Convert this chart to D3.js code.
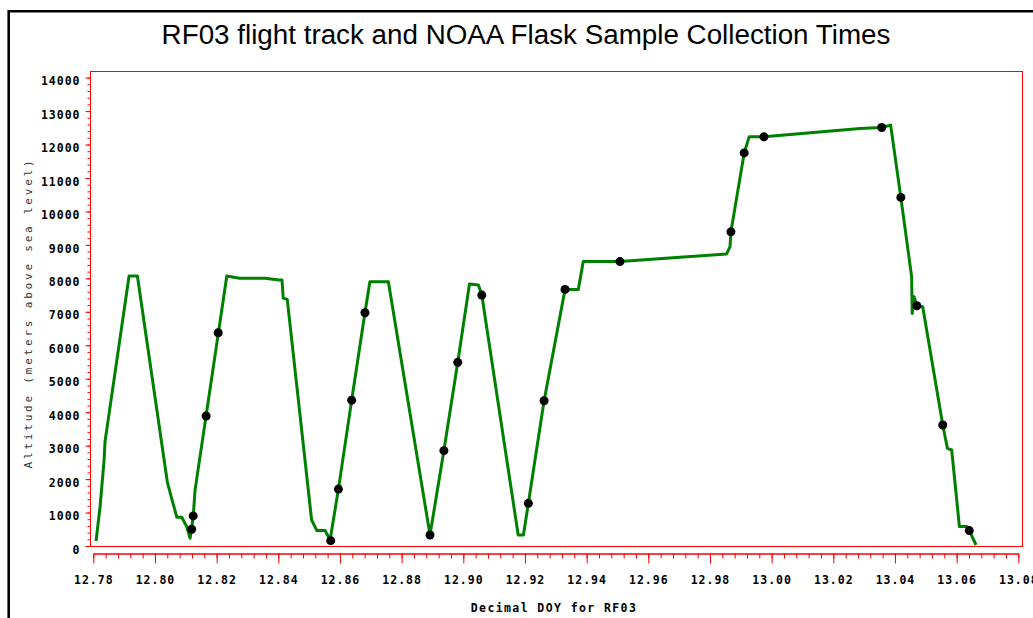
<!DOCTYPE html>
<html>
<head>
<meta charset="utf-8">
<script src="https://cdn.jsdelivr.net/npm/d3@7"></script>
<style>
  body { margin: 0; background: #fff; }
  svg { display: block; }
</style>
</head>
<body>
<div id="chart-container"></div>
<script>
// Flight track (decimal day of year, altitude in m)
const trackDoy = [12.7809, 12.7822, 12.7835, 12.7838, 12.7916, 12.7943, 12.8040, 12.8054, 12.8071, 12.8087,
  12.8103, 12.8114, 12.8124, 12.8130, 12.8233, 12.8274, 12.8357, 12.8402, 12.8412, 12.8416,
  12.8429, 12.8508, 12.8525, 12.8552, 12.8568, 12.8595, 12.8638, 12.8681, 12.8697, 12.8757,
  12.8892, 12.8937, 12.8982, 12.9020, 12.9049, 12.9060, 12.9178, 12.9195, 12.9211, 12.9262,
  12.9330, 12.9373, 12.9389, 12.9508, 12.9854, 12.9865, 12.9868, 12.9911, 12.9927, 12.9975,
  13.0287, 13.0357, 13.0386, 13.0419, 13.0454, 13.0456, 13.0462, 13.0471, 13.0490, 13.0555,
  13.0570, 13.0584, 13.0609, 13.0633, 13.0641, 13.0663];
const trackAlt = [150, 1180, 2570, 3120, 8070, 8070, 1920, 1425, 860, 860,
  580, 230, 875, 1670, 8070, 8000, 8000, 7950, 7950, 7410,
  7370, 780, 460, 460, 180, 1700, 4360, 6970, 7900, 7900,
  330, 2850, 5490, 7830, 7800, 7500, 330, 330, 1275, 4340,
  7670, 7670, 8500, 8500, 8730, 8945, 9390, 11750, 12230, 12230,
  12480, 12510, 12580, 10420, 8050, 6950, 7450, 7180, 7150, 3615,
  2920, 2870, 580, 580, 460, 30];

// NOAA flask sample collection times
const flaskDoy = [12.8119, 12.8124, 12.8166, 12.8205, 12.8570, 12.8595, 12.8638, 12.8681, 12.8892, 12.8937,
  12.8982, 12.9060, 12.9211, 12.9262, 12.9330, 12.9508, 12.9868, 12.9911, 12.9975, 13.0357,
  13.0419, 13.0471, 13.0555, 13.0641];
const flaskAlt = [500, 900, 3885, 6375, 160, 1700, 4360, 6970, 330, 2850,
  5490, 7500, 1275, 4340, 7670, 8500, 9390, 11750, 12230, 12510,
  10420, 7180, 3615, 460];

// Axis ticks
const xMajor = d3.range(0, 16).map(i => +(12.78 + i * 0.02).toFixed(2));
const xMinor = d3.range(0, 76).map(i => 12.78 + i * 0.004);
const yMajor = d3.range(0, 14001, 1000);
const yMinor = d3.range(0, 14001, 200);

const W = 1033, H = 618;
const frame = { left: 90, right: 1022, top: 71, bottom: 546 };

const svg = d3.select("#chart-container")
    .append("svg")
    .attr("width", W)
    .attr("height", H);

// outer black border (top + left)
svg.append("path")
    .attr("d", `M8.7,${H} L8.7,11.3 L${W},11.3`)
    .attr("fill", "none")
    .attr("stroke", "#000")
    .attr("stroke-width", 2.6);

// Scales
const xScale = d3.scaleLinear().domain([12.78, 13.08]).range([93.3, 1018.3]);
const yScale = d3.scaleLinear().domain([0, 14000]).range([546, 77.6]);

// Plot frame
svg.append("rect")
    .attr("x", frame.left + 0.5)
    .attr("y", frame.top + 0.5)
    .attr("width", frame.right - frame.left)
    .attr("height", frame.bottom - frame.top)
    .attr("fill", "none")
    .attr("stroke", "#ff0000")
    .attr("stroke-width", 1);

// X Axis (minor + major)
const xAxisY = 553.5;
svg.append("g")
    .attr("transform", `translate(0,${xAxisY})`)
    .call(d3.axisBottom(xScale).tickValues(xMinor).tickSize(5).tickSizeOuter(0).tickFormat(""))
    .call(g => g.selectAll("line, path").attr("stroke", "#ff0000"));

const xAxis = svg.append("g")
    .attr("transform", `translate(0,${xAxisY})`)
    .call(d3.axisBottom(xScale).tickValues(xMajor).tickSize(10).tickSizeOuter(0)
        .tickPadding(12).tickFormat(d3.format(".2f")));
xAxis.select(".domain").attr("stroke", "#ff0000");
xAxis.selectAll(".tick line").attr("stroke", "#ff0000");
xAxis.selectAll(".tick text")
    .attr("fill", "#000")
    .style("font-family", "'DejaVu Sans Mono', monospace")
    .style("font-size", "11.5px")
    .style("font-weight", "bold")
    .style("letter-spacing", "1px");

// Y Axis (minor + major)
svg.append("g")
    .attr("transform", `translate(${frame.left + 0.5},0)`)
    .call(d3.axisLeft(yScale).tickValues(yMinor).tickSize(3).tickFormat(""))
    .call(g => g.select(".domain").remove())
    .call(g => g.selectAll("line").attr("stroke", "#ff0000"));

const yAxis = svg.append("g")
    .attr("transform", `translate(${frame.left + 0.5},0)`)
    .call(d3.axisLeft(yScale).tickValues(yMajor).tickSize(5).tickPadding(5).tickFormat(d3.format("d")));
yAxis.select(".domain").remove();
yAxis.selectAll(".tick line").attr("stroke", "#ff0000");
yAxis.selectAll(".tick text")
    .attr("fill", "#000")
    .attr("y", 3.5)
    .style("font-family", "'DejaVu Sans Mono', monospace")
    .style("font-size", "11.5px")
    .style("font-weight", "bold")
    .style("letter-spacing", "1px");

// Flight track line
const track = trackDoy.map((d, i) => ({ doy: d, alt: trackAlt[i] }));
const line = d3.line()
    .x(d => xScale(d.doy))
    .y(d => yScale(d.alt));

svg.append("path")
    .datum(track)
    .attr("fill", "none")
    .attr("stroke", "#008000")
    .attr("stroke-width", 3)
    .attr("stroke-linejoin", "round")
    .attr("d", line);

// Flask sample points
const flasks = flaskDoy.map((d, i) => ({ doy: d, alt: flaskAlt[i] }));
svg.selectAll(".flask")
    .data(flasks)
    .enter()
    .append("circle")
    .attr("class", "flask")
    .attr("cx", d => xScale(d.doy))
    .attr("cy", d => yScale(d.alt))
    .attr("r", 4.5)
    .attr("fill", "#000");

// Title
const title = svg.append("text")
    .attr("x", 526)
    .attr("y", 43.5)
    .attr("text-anchor", "middle")
    .style("font-family", "'Liberation Sans', Arial, sans-serif")
    .style("font-size", "23px")
    .attr("fill", "#000")
    .text("RF03 flight track and NOAA Flask Sample Collection Times");
const tLen = title.node().getComputedTextLength();
title.style("font-size", (23 * 729 / tLen).toFixed(2) + "px");

// X Label
svg.append("text")
    .attr("x", 554)
    .attr("y", 612)
    .attr("text-anchor", "middle")
    .style("font-family", "'DejaVu Sans Mono', monospace")
    .style("font-size", "11.5px")
    .style("font-weight", "bold")
    .style("letter-spacing", "1.4px")
    .attr("fill", "#000")
    .text("Decimal DOY for RF03");

// Y Label
svg.append("text")
    .attr("transform", "rotate(-90)")
    .attr("x", -313)
    .attr("y", 32)
    .attr("text-anchor", "middle")
    .style("font-family", "'DejaVu Sans Mono', monospace")
    .style("font-size", "11px")
    .style("letter-spacing", "2.8px")
    .attr("fill", "#333")
    .text("Altitude (meters above sea level)");
</script>
</body>
</html>
